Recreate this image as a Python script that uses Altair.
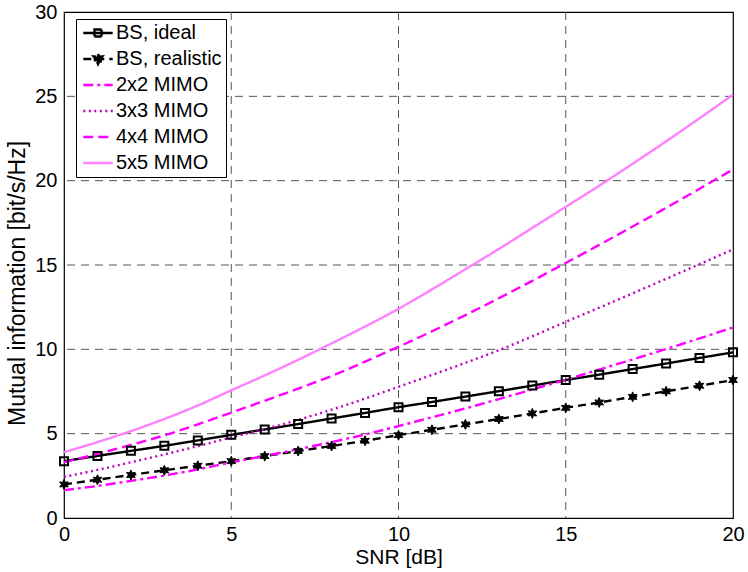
import math
import altair as alt
import pandas as pd

# ---- data ----
snr = list(range(21))
bs_ideal = [3.37, 3.68, 3.98, 4.28, 4.6, 4.93, 5.25, 5.57, 5.9, 6.23, 6.57,
            6.88, 7.2, 7.52, 7.85, 8.18, 8.5, 8.83, 9.16, 9.49, 9.82]
bs_real = [1.99, 2.27, 2.55, 2.83, 3.1, 3.37, 3.67, 3.97, 4.27, 4.58, 4.91,
           5.23, 5.55, 5.87, 6.2, 6.53, 6.85, 7.18, 7.51, 7.84, 8.18]
mimo2 = [1.65, 1.9, 2.2, 2.52, 2.88, 3.3, 3.68, 4.08, 4.5, 4.95, 5.45,
         5.97, 6.5, 7.05, 7.62, 8.2, 8.8, 9.4, 10.02, 10.65, 11.3]
mimo3 = [2.44, 2.85, 3.3, 3.77, 4.26, 4.78, 5.27, 5.82, 6.42, 7.08, 7.78,
         8.48, 9.2, 9.95, 10.77, 11.63, 12.47, 13.32, 14.18, 15.05, 15.92]
mimo4 = [3.3, 3.8, 4.33, 4.9, 5.55, 6.25, 6.95, 7.67, 8.42, 9.27, 10.15,
         11.07, 12.03, 13.03, 14.06, 15.12, 16.19, 17.28, 18.39, 19.52, 20.66]
mimo5 = [3.9, 4.5, 5.15, 5.87, 6.67, 7.57, 8.45, 9.38, 10.35, 11.35, 12.4,
         13.55, 14.75, 15.95, 17.2, 18.45, 19.7, 21.0, 22.33, 23.7, 25.1]

series_names = ["BS, ideal", "BS, realistic", "2x2 MIMO", "3x3 MIMO", "4x4 MIMO", "5x5 MIMO"]
series_values = [bs_ideal, bs_real, mimo2, mimo3, mimo4, mimo5]
x_ticks = [0, 5, 10, 15, 20]
y_ticks = [0, 5, 10, 15, 20, 25, 30]
grid_x = [5, 10, 15]
grid_y = [5, 10, 15, 20, 25]

# ---- styles ----
colors = ["#000000", "#000000", "#ff00ff", "#bf00bf", "#ff00ff", "#ff80ff"]
dashes = [[1, 0], [8, 5], [10, 4, 3, 4], [2, 3.5], [10, 5], [1, 0]]
fills = ["white", "black", "transparent", "transparent", "transparent", "transparent"]


def star_path(ro, ri, n=6):
    pts = []
    for k in range(2 * n):
        r = ro if k % 2 == 0 else ri
        a = math.radians(-90 + k * 180 / n)
        pts.append((r * math.cos(a), r * math.sin(a)))
    return "M" + "L".join(f"{x:.3f},{y:.3f}" for x, y in pts) + "Z"


seg = "M-2.1,0L2.1,0"
legend_shapes = [
    seg + "M-0.5,-0.5L0.5,-0.5L0.5,0.5L-0.5,0.5Z",
    seg + star_path(0.72, 0.36),
    seg, seg, seg, seg,
]
plot_star = star_path(1.0, 0.5)

rows = []
for name, vals in zip(series_names, series_values):
    for x, y in zip(snr, vals):
        rows.append({"snr": x, "mi": y, "series": name})
df = pd.DataFrame(rows)

FONT = "Liberation Sans"

xscale = alt.Scale(domain=[0, 20], nice=False, zero=False)
yscale = alt.Scale(domain=[0, 30], nice=False)
xaxis = alt.Axis(values=x_ticks, title="SNR [dB]", grid=False, ticks=False,
                 domain=False, labelPadding=6, titlePadding=2, labelFlush=False,
                 titleFontSize=21)
yaxis = alt.Axis(values=y_ticks, title="Mutual information [bit/s/Hz]", grid=False,
                 ticks=False, domain=False, labelPadding=7, titlePadding=5,
                 labelFlush=False, titleFontSize=23, titleY=271)

xenc = alt.X("snr:Q", scale=xscale, axis=xaxis)
yenc = alt.Y("mi:Q", scale=yscale, axis=yaxis)

color_scale = alt.Scale(domain=series_names, range=colors)
dash_scale = alt.Scale(domain=series_names, range=dashes)
shape_scale = alt.Scale(domain=series_names, range=legend_shapes)
fill_scale = alt.Scale(domain=series_names, range=fills)

base = alt.Chart(df)

vgrid = alt.Chart(pd.DataFrame({"snr": grid_x})).mark_rule(
    color="#555555", strokeWidth=1, strokeDash=[8, 6]
).encode(x=xenc)

hgrid = alt.Chart(pd.DataFrame({"mi": grid_y})).mark_rule(
    color="#555555", strokeWidth=1, strokeDash=[8, 6]
).encode(y=yenc)

color_enc = alt.Color("series:N", scale=color_scale, title=None)
dash_enc = alt.StrokeDash("series:N", scale=dash_scale, title=None)

lines = base.mark_line(strokeWidth=2.4, interpolate="monotone").encode(
    x=xenc, y=yenc, color=color_enc, strokeDash=dash_enc,
)

squares = base.transform_filter(alt.datum.series == "BS, ideal").mark_point(
    shape="square", size=64, filled=False, color="black", strokeWidth=2, opacity=1
).encode(x=xenc, y=yenc)

stars = base.transform_filter(alt.datum.series == "BS, realistic").mark_point(
    shape=plot_star, size=100, filled=True, color="black", stroke="black",
    strokeWidth=1, opacity=1
).encode(x=xenc, y=yenc)

legend_layer = base.transform_filter("false").mark_point(strokeWidth=2.4, opacity=1).encode(
    x=xenc, y=yenc,
    color=color_enc,
    strokeDash=dash_enc,
    shape=alt.Shape("series:N", scale=shape_scale, title=None),
    fill=alt.Fill("series:N", scale=fill_scale, title=None),
)

chart = alt.layer(vgrid, hgrid, lines, squares, stars, legend_layer).properties(
    width=669, height=506,
    autosize="none",
    padding={"left": 64, "top": 12, "right": 15, "bottom": 54},
).configure_view(
    stroke="black", strokeWidth=1.2
).configure_axis(
    labelFont=FONT, labelFontSize=20, labelColor="black",
    titleFont=FONT, titleFontWeight="normal", titleColor="black",
).configure_legend(
    orient="none", legendX=12, legendY=7,
    fillColor="white", strokeColor="black", padding=4,
    labelFont=FONT, labelFontSize=20, labelColor="black",
    symbolSize=196, symbolStrokeWidth=2.4, labelOffset=8, rowPadding=6,
    symbolOffset=8,
)

chart.save("out.html", embed_options={"renderer": "svg", "actions": False})
